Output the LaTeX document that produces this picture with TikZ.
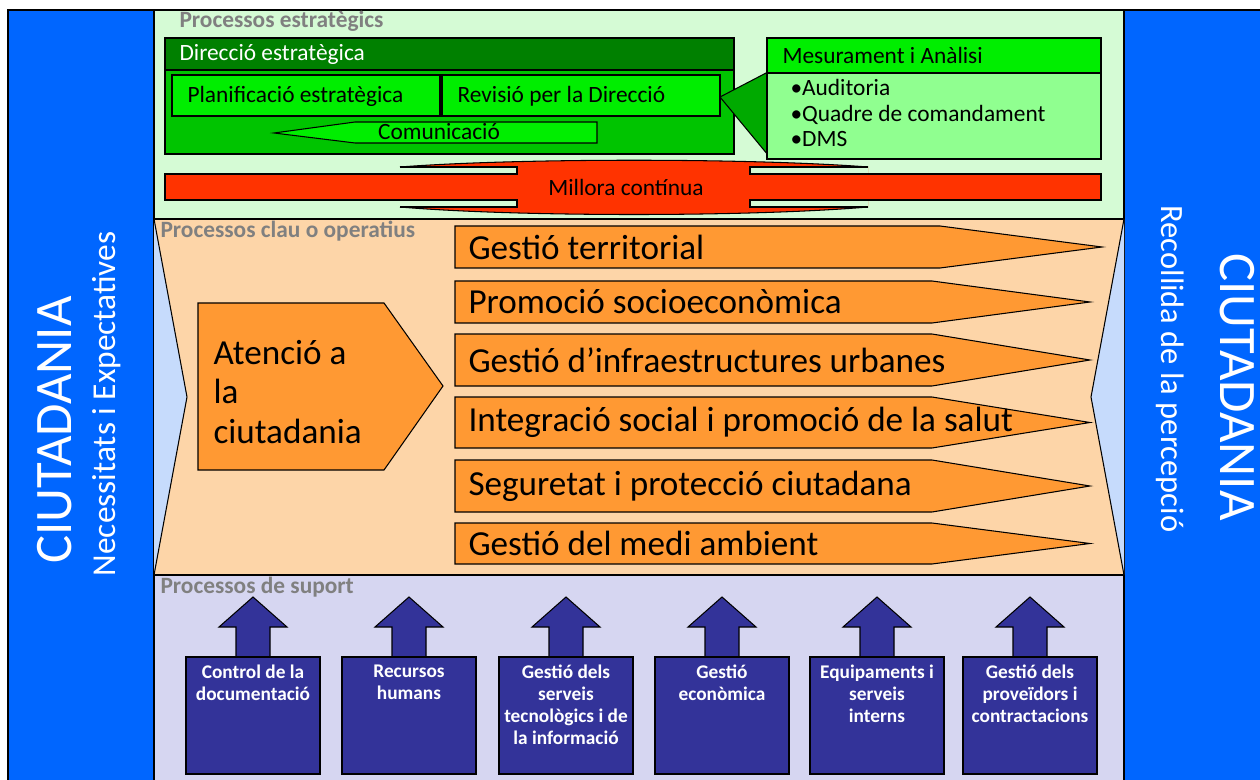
\documentclass[tikz,border=0pt]{standalone}
\usepackage{fontspec}
\setmainfont{Carlito}
\definecolor{citiblue}{HTML}{0066FF}
\definecolor{estrbg}{HTML}{D5FBD5}
\definecolor{claubg}{HTML}{FDD5A8}
\definecolor{suportbg}{HTML}{D6D6F1}
\definecolor{entrada}{HTML}{C6DBFC}
\definecolor{dirhead}{HTML}{008000}
\definecolor{dirbody}{HTML}{00C400}
\definecolor{callout}{HTML}{00AA00}
\definecolor{dirbox}{HTML}{00EE00}
\definecolor{mesbody}{HTML}{90FF90}
\definecolor{millora}{HTML}{FF3300}
\definecolor{operatiu}{HTML}{FF9933}
\definecolor{suport}{HTML}{333399}
\definecolor{titlegrey}{HTML}{808080}
\tikzset{
  sectitle/.style={anchor=west, inner sep=0pt, text=titlegrey, font=\fontsize{13.3}{15}\selectfont\bfseries},
  smalllbl/.style={inner sep=0pt, font=\fontsize{13.3}{15}\selectfont},
  oplbl/.style={anchor=west, inner sep=0pt, font=\fontsize{20}{23}\selectfont},
  suplbl/.style={anchor=north, inner sep=0pt, align=center, text=white, font=\fontsize{11}{12.6}\selectfont\bfseries},
  citilbl/.style={inner sep=0pt, text=white}
}
\begin{document}
\begin{tikzpicture}[x=0.02cm, y=-0.02cm, line width=0.6pt]
    \useasboundingbox (0,0) rectangle (1260,780);
    % ciutadania panels
    \draw[fill=citiblue, line width=0.9pt] (8,10) rectangle (154,800);
    \draw[fill=citiblue, line width=0.9pt] (1124,10) rectangle (1280,800);
    \node[citilbl, rotate=90, font=\fontsize{30}{31}\selectfont] (ciutL) at (55,430) {CIUTADANIA};
    \node[citilbl, rotate=90, font=\fontsize{19}{20}\selectfont] (necess) at (107,404) {Necessitats i Expectatives};
    \node[citilbl, rotate=-90, font=\fontsize{18.5}{20}\selectfont] (recoll) at (1170,369) {Recollida de la percepció};
    \node[citilbl, rotate=-90, font=\fontsize{30}{31}\selectfont] (ciutR) at (1237,387) {CIUTADANIA};

    % three bands
    \draw[fill=estrbg, line width=0.9pt] (154,10) rectangle (1124,219);
    \draw[fill=claubg, line width=0.9pt] (154,219) rectangle (1124,575);
    \draw[fill=suportbg, line width=0.9pt] (154,575) rectangle (1124,800);
    \node[sectitle] (tEstr) at (179,21) {Processos estratègics};
    \node[sectitle] (tClau) at (160,231) {Processos clau o operatius};
    \node[sectitle] (tSup) at (160,587) {Processos de suport};

    % Direccio estrategica
    \draw[fill=dirbody] (165,38) rectangle (734,154);
    \draw[fill=dirhead] (165,38) rectangle (734,70);
    \node[smalllbl, anchor=west, text=white] (direccio) at (179,54) {Direcció estratègica};
    \draw[fill=dirbox] (172,75) rectangle (440,116);
    \node[smalllbl, anchor=west] (planif) at (187,96) {Planificació estratègica};
    \draw[fill=dirbox] (442,75) rectangle (720,116);
    \node[smalllbl, anchor=west] (revisio) at (457,96) {Revisió per la Direcció};
    \draw[fill=dirbox] (274,133) -- (355,122) -- (597,122) -- (597,143) -- (355,143) -- cycle;
    \node[smalllbl] (comunic) at (439,132) {Comunicació};

    % Mesurament i Analisi
    \draw[fill=callout] (720,97) -- (768,72) -- (768,155) -- cycle;
    \draw[fill=mesbody] (767,38) rectangle (1101,159);
    \draw[fill=dirbox] (767,38) rectangle (1101,73);
    \node[smalllbl, anchor=west] (mesura) at (782,55) {Mesurament i Anàlisi};
    \node[smalllbl, anchor=north west, align=left, font=\fontsize{13.3}{14.5}\selectfont] (indicad) at (790,79)
        {\textbullet Auditoria\\\textbullet Quadre de comandament\\\textbullet DMS};

    % Millora continua
    \fill[millora] (400,167) .. controls (517,158) and (751,158) .. (868,167) -- (868,207)
        .. controls (751,217) and (517,217) .. (400,207) -- cycle;
    \draw (400,167) .. controls (517,158) and (751,158) .. (868,167);
    \draw (400,207) .. controls (517,217) and (751,217) .. (868,207);
    \draw[fill=estrbg] (400,174) -- (517,174) -- (517,167) -- (400,167);
    \draw[fill=estrbg] (868,174) -- (750,174) -- (750,167) -- (868,167);
    \draw[fill=estrbg] (400,200) -- (517,200) -- (517,207) -- (400,207);
    \draw[fill=estrbg] (868,200) -- (750,200) -- (750,207) -- (868,207);
    \draw[fill=millora] (165,174) rectangle (1101,200);
    \fill[millora] (517.6,167) rectangle (749.4,207);
    \node[smalllbl] (millora) at (626,187) {Millora contínua};

    % entrada i sortida
    \draw[fill=entrada] (154,219) -- (187,397) -- (154,575);
    \draw[fill=entrada] (1124,219) -- (1091,397) -- (1124,575);

    % processos operatius
    \draw[fill=operatiu] (198,303) -- (384,303) -- (443,386) -- (384,470) -- (198,470) -- cycle;
    \node[oplbl, align=left, font=\fontsize{20}{22.7}\selectfont] (atencio) at (213,392) {Atenció a\\la\\ciutadania};
    \foreach \yt/\yb/\nx/\tx/\lab [count=\i] in {
        226/268/940/1102/Gestió territorial,
        281/323/932/1090/Promoció socioeconòmica,
        334/386/932/1090/Gestió d’infraestructures urbanes,
        397/448/932/1090/Integració social i promoció de la salut,
        460/512/932/1090/Seguretat i protecció ciutadana,
        523/564/932/1090/Gestió del medi ambient}
    {
        \draw[fill=operatiu] (455,\yt) -- (\nx,\yt) -- (\tx,{(\yt+\yb)/2}) -- (\nx,\yb) -- (455,\yb) -- cycle;
        \node[oplbl] (op\i) at (468,{(\yt+\yb)/2}) {\lab};
    }

    % processos de suport
    \foreach \cx/\txt [count=\i] in {
        253/{Control de la\\documentació},
        409/{Recursos\\humans},
        566/{Gestió dels\\serveis\\tecnològics i de\\la informació},
        722/{Gestió\\econòmica},
        877/{Equipaments i\\serveis\\interns},
        1030/{Gestió dels\\proveïdors i\\contractacions}}
    {
        \draw[fill=suport] (\cx,597) -- ({\cx+34},627) -- ({\cx+17},627) -- ({\cx+17},657)
            -- ({\cx-17},657) -- ({\cx-17},627) -- ({\cx-34},627) -- cycle;
        \draw[fill=suport] ({\cx-67},657) rectangle ({\cx+67},774);
        \node[suplbl] (sup\i) at (\cx,664) {\txt};
    }
\end{tikzpicture}
\end{document}
